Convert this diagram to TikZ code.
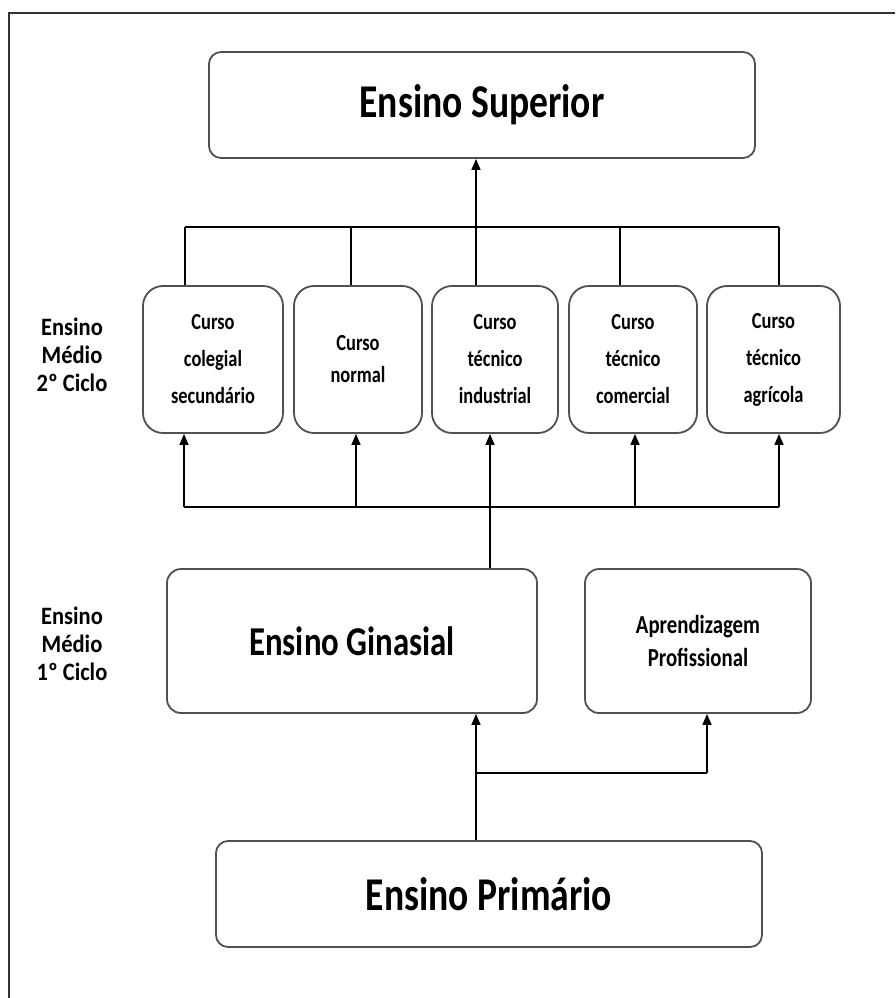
\documentclass[tikz,border=0pt]{standalone}
\usepackage{fontspec}
\setmainfont{Carlito}[FakeStretch=0.8]
\newfontfamily\labelfont{Carlito}[FakeStretch=0.9]
\usetikzlibrary{arrows.meta}
\definecolor{boxgray}{HTML}{505050}
\definecolor{framegray}{HTML}{333333}
\begin{document}
\begin{tikzpicture}[x=1pt,y=-1pt,
  box/.style={draw=boxgray, line width=1.8pt, inner sep=0pt, align=center},
  bigbox/.style={box, rounded corners=12pt, minimum width=546pt, minimum height=106pt,
    font=\fontsize{47}{50}\selectfont\bfseries},
  midbox/.style={box, rounded corners=14pt, minimum height=144pt},
  cursobox/.style={box, rounded corners=20pt, minimum height=147pt,
    font=\fontsize{23}{37}\selectfont\bfseries},
  sidelabel/.style={align=center, inner sep=0pt, font=\labelfont\fontsize{25}{28}\selectfont\bfseries},
  conn/.style={draw=black, line width=1.5pt},
  arr/.style={-{Triangle[length=11pt,width=9pt]}}]
\useasboundingbox (0,0) rectangle (895,998);
\fill[white] (0,0) rectangle (895,998);

% outer frame (left and top edges)
\draw[framegray, line width=2pt] (9,998) -- (9,13) -- (895,13);

% boxes
\node[bigbox] (sup) at (482,105) {Ensino Superior};

\node[cursobox, minimum width=140pt] (c1) at (213,359.5) {Curso\\colegial\\secundário};
\node[cursobox, minimum width=128pt, font=\fontsize{23}{32}\selectfont\bfseries] (c2) at (358,359.5) {Curso\\normal};
\node[cursobox, minimum width=126pt] (c3) at (495,359.5) {Curso\\técnico\\industrial};
\node[cursobox, minimum width=128pt] (c4) at (633,359.5) {Curso\\técnico\\comercial};
\node[cursobox, minimum width=133pt] (c5) at (773.5,359.5) {Curso\\técnico\\agrícola};

\node[midbox, minimum width=370pt, font=\fontsize{41}{45}\selectfont\bfseries] (gin) at (352,641) {Ensino Ginasial};
\node[midbox, minimum width=226pt, font=\fontsize{26}{33}\selectfont\bfseries] (apr) at (698,641) {Aprendizagem\\Profissional};

\node[bigbox] (pri) at (489,894) {Ensino Primário};

% side labels
\node[sidelabel] (lab2) at (72,355) {Ensino\\Médio\\2º Ciclo};
\node[sidelabel] (lab1) at (72,644) {Ensino\\Médio\\1º Ciclo};

% upper bus: courses to higher education
\coordinate (tb1) at (185,227);
\coordinate (tb2) at (351,227);
\coordinate (tb3) at (476,227);
\coordinate (tb4) at (620,227);
\coordinate (tb5) at (779,227);
\draw[conn] (tb1) -- (tb5);
\foreach \i in {1,2,4,5} \draw[conn] (tb\i) -- (tb\i |- c\i.north);
\draw[conn,arr] (tb3 |- c3.north) -- (tb3 |- sup.south);

% middle bus: ginasial to courses
\coordinate (bb1) at (184,507);
\coordinate (bb2) at (356,507);
\coordinate (bb3) at (490,507);
\coordinate (bb4) at (635,507);
\coordinate (bb5) at (779,507);
\draw[conn] (bb1) -- (bb5);
\foreach \i in {1,...,5} \draw[conn,arr] (bb\i) -- (bb\i |- c\i.south);
\draw[conn] (bb3 |- gin.north) -- (bb3);

% lower bus: primary to first cycle
\coordinate (lb1) at (476,773);
\coordinate (lb2) at (707,773);
\draw[conn] (lb1 |- pri.north) -- (lb1) -- (lb2);
\draw[conn,arr] (lb1) -- (lb1 |- gin.south);
\draw[conn,arr] (lb2) -- (lb2 |- apr.south);
\end{tikzpicture}
\end{document}
